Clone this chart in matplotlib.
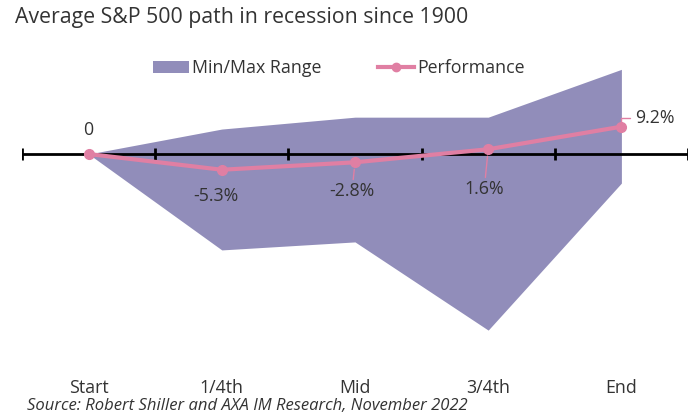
import matplotlib
matplotlib.use("Agg")
import matplotlib.pyplot as plt
import numpy as np
from matplotlib.lines import Line2D
from matplotlib.patches import Patch

plt.rcParams["font.family"] = ["Open Sans", "DejaVu Sans"]

# ==========================
# Data
# ==========================
stages = ["Start", "1/4th", "Mid", "3/4th", "End"]
performance = [0, -5.3, -2.8, 1.6, 9.2]
range_max = [0, 8.4, 12.4, 12.4, 28.5]
range_min = [0, -32.3, -29.6, -59.3, -9.8]
value_labels = ["0", "-5.3%", "-2.8%", "1.6%", "9.2%"]

FILL_COLOR = "#918dba"
LINE_COLOR = "#e07fa3"
TEXT_COLOR = "#333333"
FONT_SIZE = 12.8

fig = plt.figure(figsize=(6.98, 4.16), dpi=100)
ax = fig.add_axes([22 / 698, 1 - 355 / 416, 666 / 698, 295 / 416])

x = np.arange(len(stages))

ax.fill_between(x, range_min, range_max, color=FILL_COLOR, linewidth=0)

# zero line with tick marks between categories
ax.axhline(0, color="black", linewidth=2, zorder=3)
tick_pos = np.arange(len(stages) + 1) - 0.5
ax.vlines(tick_pos, -2, 2, color="black", linewidth=2, zorder=3)

ax.plot(x, performance, color=LINE_COLOR, linewidth=3, marker="o",
        markersize=7, zorder=4)

# data labels (offsets in pixels)
label_style = dict(textcoords="offset pixels", ha="center", va="center",
                   fontsize=FONT_SIZE, color=TEXT_COLOR)
leader = dict(arrowstyle="-", color=LINE_COLOR, lw=1, shrinkA=0, shrinkB=5)

ax.annotate(value_labels[0], (x[0], performance[0]), xytext=(0, 24), **label_style)
ax.annotate(value_labels[1], (x[1], performance[1]), xytext=(-6, -26), **label_style)
ax.annotate(value_labels[2], (x[2], performance[2]), xytext=(-3, -29),
            arrowprops=leader, **label_style)
ax.annotate(value_labels[3], (x[3], performance[3]), xytext=(-4, -40),
            arrowprops=leader, **label_style)
end_style = dict(label_style, ha="left")
ax.annotate(value_labels[4], (x[4], performance[4]), xytext=(14, 9),
            arrowprops=dict(arrowstyle="-", color=LINE_COLOR, lw=1,
                            shrinkA=2, shrinkB=0,
                            connectionstyle="angle,angleA=0,angleB=90,rad=0"),
            **end_style)

ax.set_xlim(-0.5, len(stages) - 0.5)
ax.set_ylim(-(355 - 154) / 2.97, (154 - 60) / 2.97)
ax.set_xticks(x)
ax.set_xticklabels(stages, fontsize=FONT_SIZE, color=TEXT_COLOR)
ax.tick_params(axis="x", length=0, pad=17)
ax.set_yticks([])
for spine in ax.spines.values():
    spine.set_visible(False)

handles = [
    Patch(facecolor=FILL_COLOR, label="Min/Max Range"),
    Line2D([0], [0], color=LINE_COLOR, linewidth=3, marker="o",
           markersize=6, label="Performance"),
]
fig.legend(handles=handles, loc="center", bbox_to_anchor=(339 / 698, 1 - 68 / 416),
           ncol=2, frameon=False, fontsize=FONT_SIZE, handlelength=2.0,
           handletextpad=0.2, columnspacing=3.2, labelcolor=TEXT_COLOR)

fig.text(15 / 698, 1 - 18 / 416, "Average S&P 500 path in recession since 1900",
         fontsize=15.3, color=TEXT_COLOR, va="center", ha="left")
fig.text(27 / 698, 1 - 406 / 416,
         "Source: Robert Shiller and AXA IM Research, November 2022",
         fontsize=12, style="italic", color=TEXT_COLOR, va="center", ha="left")

fig.savefig("out.png", dpi=100)
